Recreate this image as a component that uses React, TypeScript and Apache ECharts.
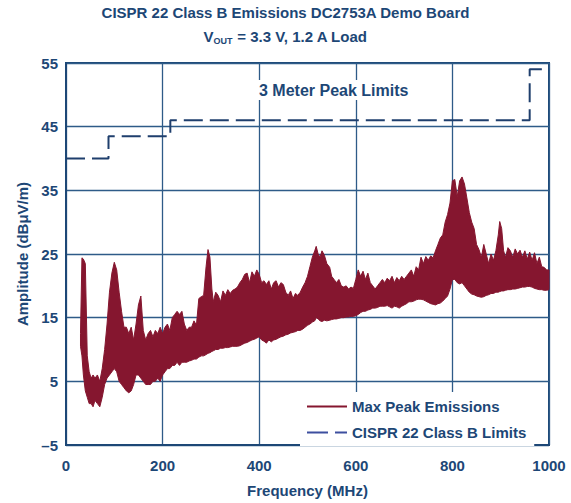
import React, { useEffect, useRef } from "react";
import * as echarts from "echarts";

const TITLE_LINE1 = "CISPR 22 Class B Emissions DC2753A Demo Board";
const X_NAME = "Frequency (MHz)";
const Y_NAME = "Amplitude (dBμV/m)";
const ANNOTATION = "3 Meter Peak Limits";
const SERIES_EMISSIONS = "Max Peak Emissions";
const SERIES_LIMITS = "CISPR 22 Class B Limits";

// Emission trace: frequency bins (MHz) with max and min of the peak trace in each bin
const FREQ = [
  30, 33, 36, 40, 44, 48, 52, 56, 60, 65, 70, 75, 80, 85, 90, 95, 100, 105, 110, 115,
  120, 125, 130, 135, 140, 145, 150, 155, 160, 165, 170, 175, 180, 185, 190, 195, 200, 205, 210, 215,
  220, 225, 230, 235, 240, 245, 250, 255, 260, 265, 270, 275, 280, 285, 290, 294, 298, 302, 305, 310,
  315, 320, 325, 330, 335, 340, 345, 350, 355, 360, 365, 370, 375, 380, 385, 390, 395, 400, 405, 410,
  415, 420, 425, 430, 435, 440, 445, 450, 455, 460, 465, 470, 475, 480, 485, 490, 495, 500, 505, 510,
  515, 518, 522, 526, 530, 535, 540, 546, 550, 555, 560, 565, 570, 575, 580, 585, 590, 595, 600, 605,
  610, 615, 620, 625, 630, 635, 640, 645, 650, 655, 660, 665, 670, 675, 680, 685, 690, 695, 700, 705,
  710, 715, 720, 725, 730, 735, 740, 745, 750, 755, 760, 765, 770, 775, 780, 785, 790, 795, 800, 805,
  810, 815, 820, 825, 830, 835, 840, 845, 850, 855, 860, 865, 870, 875, 880, 885, 890, 895, 898, 902,
  906, 910, 915, 920, 925, 930, 935, 940, 945, 950, 955, 960, 965, 970, 975, 980, 985, 990, 995, 1000,
];
const UPPER = [
  12.5, 24.4, 24.2, 23.5, 9, 6.5, 5.5, 6, 5.5, 6, 5, 7, 10, 14, 19, 22, 23.7, 22.5, 19, 16,
  13.5, 13.5, 12.5, 13.5, 11.5, 14, 17, 18.4, 13, 11.5, 12.5, 13, 12, 13, 12.5, 13.5, 12.5, 13.5, 14, 13,
  15, 15.5, 16, 15.5, 16, 14, 13, 13.5, 13.5, 14.5, 13.8, 18, 18.3, 18.5, 23, 25.7, 24.5, 19.5, 17.5, 19,
  18.5, 17.5, 19.2, 18.5, 19.4, 18.8, 19.3, 19.5, 19.8, 20.5, 21, 21.8, 22, 20.5, 22.2, 21.5, 22.5, 21.8, 20.5, 20.8,
  20.2, 20.8, 19.5, 20.5, 20.8, 19.8, 20.5, 20.2, 19, 18.5, 19.2, 18, 18.8, 18.5, 19, 19.8, 20.5, 21.5, 23, 24.5,
  25.5, 26.2, 25, 24.5, 25.5, 24.8, 23.5, 22.9, 21.5, 21, 20.5, 21, 20, 19.8, 20, 19.5, 19.8, 19.6, 21, 22.5,
  21.5, 22.3, 21, 22, 20.5, 20, 19.5, 20, 20.5, 21, 20.5, 21.2, 20.8, 21.5, 20.5, 21.3, 20.8, 21.5, 21, 21.5,
  22, 22.5, 21.5, 23, 22.5, 24.5, 23.5, 24.6, 24, 24.7, 24.4, 25.5, 26.5, 27.5, 28, 30, 31.2, 33, 36.5, 36.7,
  34, 36.5, 37.1, 36, 33.8, 31.5, 30, 29, 26.5, 25.7, 24.5, 26.5, 25, 23.5, 25, 24, 25.5, 28, 30.1, 29,
  25.5, 24.5, 26, 25.5, 24.5, 25.8, 25, 25.6, 24.5, 25.5, 24.2, 25.3, 24, 25.2, 23.5, 24.5, 23, 22.9, 22.5, 22.5,
];
const LOWER = [
  10.5, 9, 6, 3.5, 2.5, 1.5, 1.5, 1, 2, 1.5, 1, 2.5, 4.5, 5.5, 6, 6.5, 7, 6.5, 5, 4.5,
  4, 3.5, 3.2, 3.5, 4.5, 6, 6, 5.5, 5, 4.5, 4.5, 4.5, 5, 5, 5.5, 5, 6, 6.5, 7, 7,
  7.5, 7.5, 8, 7.5, 8, 8, 8, 8.2, 8.3, 8.5, 8.5, 8.8, 9, 9, 9.2, 9.4, 9.5, 9.7, 9.8, 10,
  10, 10.2, 10.2, 10.3, 10.3, 10.4, 10.5, 10.5, 10.5, 10.6, 10.8, 11, 11.1, 11.3, 11.5, 11.6, 11.8, 12, 11.5, 11.3,
  11, 11.5, 11.2, 11.5, 11.6, 11.8, 12, 12.1, 12.3, 12.4, 12.6, 12.7, 12.8, 13, 13, 13.2, 13.5, 13.8, 14, 14.3,
  14.5, 15, 14.8, 14.5, 14.4, 14.6, 14.5, 14.6, 14.7, 14.8, 14.8, 14.9, 15, 15, 15.1, 15.1, 15.2, 15.2, 15.3, 15.5,
  15.8, 16, 16, 16.2, 16.3, 16.5, 16.5, 16.6, 16.8, 16.8, 16.8, 16.9, 16.7, 16.5, 16.8, 16.7, 16.5, 16.8, 17, 17.2,
  17.5, 17.5, 17.6, 17.8, 17.9, 17.9, 17.8, 17.6, 17.4, 17.2, 17.1, 17, 17.2, 17.3, 17.6, 18, 18.4, 19.5, 21, 21,
  20.5, 20.3, 20.5, 20, 19.5, 19, 18.7, 18.6, 18.4, 18.3, 18.2, 18.3, 18.5, 18.6, 18.8, 18.8, 19, 19, 19.1, 19.2,
  19.2, 19.3, 19.4, 19.4, 19.5, 19.5, 19.6, 19.7, 19.8, 19.8, 19.9, 19.9, 19.8, 19.6, 19.5, 19.4, 19.4, 19.3, 19.3, 19.4,
];

// CISPR 22 Class B 3 m limit steps
const LIMIT_FREQ = [0, 88, 216, 960, 1000];
const LIMIT_VAL = [40, 43.5, 46, 54, 54];

const X_TICKS = { min: 0, max: 1000, interval: 200 };
const Y_TICKS = { min: -5, max: 55, interval: 10 };

const NAVY = "#1d4776";
const GRID = "#2e5b88";
const RED = "#85162f";
const LIMIT_COLOR = "#1f3f6d";
const LEGEND_DASH = "#3d4f9f";
const FONT = "'Liberation Sans', Arial, Helvetica, sans-serif";

export default function App() {
  const ref = useRef<HTMLDivElement>(null);

  useEffect(() => {
    if (!ref.current) return;
    const chart = echarts.init(ref.current, null, { renderer: "svg" });

    const emissionData = FREQ.map((f, i) => [f, LOWER[i], UPPER[i]]);
    const limitData = LIMIT_FREQ.map((f, i) => [f, LIMIT_VAL[i]]);

    const renderBand = (params: any, api: any) => {
      if (params.dataIndex !== 0) return null;
      const pts: number[][] = [];
      for (let i = 0; i < FREQ.length; i++) pts.push(api.coord([FREQ[i], UPPER[i]]));
      for (let i = FREQ.length - 1; i >= 0; i--) pts.push(api.coord([FREQ[i], LOWER[i]]));
      return {
        type: "polygon",
        shape: { points: pts },
        style: { fill: RED, stroke: RED, lineWidth: 1, lineJoin: "miter" },
      };
    };

    const labelStyle = { color: NAVY, fontFamily: FONT, fontWeight: "bold", fontSize: 15 };

    chart.setOption({
      animation: false,
      textStyle: { fontFamily: FONT },
      title: {
        left: "center",
        top: 0,
        padding: [0, 10, 0, 0],
        text: TITLE_LINE1 + "\n{v|V}{s|OUT}{v| = 3.3 V, 1.2 A Load}",
        textStyle: {
          ...labelStyle,
          lineHeight: 24,
          rich: {
            v: { ...labelStyle, lineHeight: 24 },
            s: { ...labelStyle, fontSize: 9, lineHeight: 24, padding: [10, 0, 0, 0] },
          },
        },
      },
      grid: {
        left: 66,
        right: 22,
        top: 63,
        bottom: 57,
        show: true,
        borderColor: NAVY,
        borderWidth: 2,
        backgroundColor: "transparent",
      },
      legend: {
        orient: "vertical",
        left: 300,
        top: 392,
        padding: [7, 8, 6, 7],
        backgroundColor: "#ffffff",
        itemWidth: 40,
        itemHeight: 14,
        itemGap: 11,
        textStyle: labelStyle,
        data: [
          {
            name: SERIES_EMISSIONS,
            icon: "path://M0,0 H40 V2 H0 Z",
            itemStyle: { color: RED },
          },
          {
            name: SERIES_LIMITS,
            icon: "path://M0,0 H21 V2 H0 Z M28,0 H40 V2 H28 Z",
            itemStyle: { color: LEGEND_DASH },
          },
        ],
        z: 10,
      },
      xAxis: {
        type: "value",
        ...X_TICKS,
        name: X_NAME,
        nameLocation: "middle",
        nameGap: 38,
        nameTextStyle: labelStyle,
        axisLine: { show: true, onZero: false, lineStyle: { color: NAVY, width: 2 } },
        axisTick: { show: false },
        axisLabel: { ...labelStyle, margin: 13, formatter: (v: number) => String(v) },
        splitLine: { show: true, lineStyle: { color: GRID, width: 1.3 } },
      },
      yAxis: {
        type: "value",
        ...Y_TICKS,
        name: Y_NAME,
        nameLocation: "middle",
        nameGap: 36,
        nameTextStyle: labelStyle,
        axisLine: { show: true, onZero: false, lineStyle: { color: NAVY, width: 2 } },
        axisTick: { show: false },
        axisLabel: {
          ...labelStyle,
          margin: 8,
          formatter: (v: number) => (v < 0 ? "\u2013" + Math.abs(v) : String(v)),
        },
        splitLine: { show: true, lineStyle: { color: GRID, width: 1.3 } },
      },
      graphic: [
        {
          type: "text",
          left: 258,
          top: 80,
          z: 100,
          style: {
            text: ANNOTATION,
            fill: NAVY,
            font: "bold 16px " + FONT,
            backgroundColor: "#ffffff",
            padding: [2, 1, 2, 1],
          },
        },
      ],
      series: [
        {
          name: SERIES_EMISSIONS,
          type: "custom",
          data: emissionData,
          encode: { x: 0, y: [1, 2] },
          renderItem: renderBand,
          itemStyle: { color: RED },
          z: 3,
        },
        {
          name: SERIES_LIMITS,
          type: "line",
          data: limitData,
          step: "end",
          symbol: "none",
          lineStyle: { color: LIMIT_COLOR, width: 2, type: [19, 7] },
          itemStyle: { color: LEGEND_DASH },
          z: 4,
        },
      ],
    });

    return () => chart.dispose();
  }, []);

  return (
    <div
      ref={ref}
      style={{ position: "fixed", left: 0, top: 0, width: 571, height: 503, background: "#fff" }}
    />
  );
}
